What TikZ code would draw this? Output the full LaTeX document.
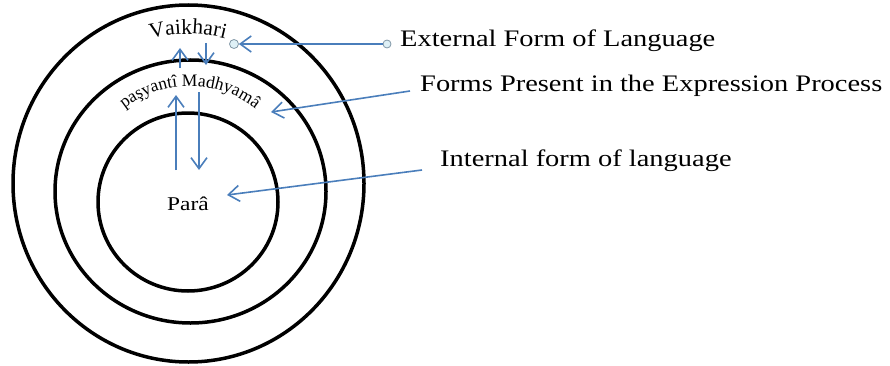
\documentclass[tikz,border=0pt]{standalone}
\usepackage{fontspec}
\setmainfont{Liberation Serif}[FakeStretch=1.2]
\newfontfamily\arcserif{Liberation Serif}
\usetikzlibrary{arrows.meta}
\definecolor{arrowblue}{RGB}{74,126,187}
\definecolor{dotfill}{RGB}{222,240,246}
\definecolor{dotline}{RGB}{128,150,165}
% #1 cx, #2 cy, #3 radius, #4 font size (pt), #5 node name prefix, #6 list char/advance (per 1000 em)
\newcommand\curvetext[6]{%
  \gdef\arctot{0}%
  \foreach \ch/\w in {#6}{\pgfmathsetmacro\arctmp{\arctot+\w*#4/1000}\xdef\arctot{\arctmp}}%
  \gdef\arcpos{0}%
  \foreach \ch/\w [count=\k] in {#6}{%
    \pgfmathsetmacro\cw{\w*#4/1000}%
    \pgfmathsetmacro\ang{90-deg((\arcpos+0.5*\cw-0.5*\arctot)/(#3))}%
    \pgfmathsetmacro\rot{\ang-90}%
    \pgfmathsetmacro\px{#1+(#3)*cos(\ang)}%
    \pgfmathsetmacro\py{#2+(#3)*sin(\ang)}%
    \node[font=\arcserif\fontsize{#4}{#4}\selectfont,inner sep=0pt,anchor=base,rotate=\rot] (#5-\k) at (\px,\py) {\ch};
    \pgfmathsetmacro\arctmp{\arcpos+\cw}\xdef\arcpos{\arctmp}%
  }}
\begin{document}
\begin{tikzpicture}[x=1pt,y=1pt,
  ring/.style={draw=black,line width=3.5pt},
  conn/.style={draw=arrowblue,line width=1.6pt,-{Straight Barb[length=11pt,width=16pt]}},
  lbl/.style={font=\fontsize{23.7}{28}\selectfont,inner sep=0pt,anchor=base west},
  dot/.style={circle,draw=dotline,fill=dotfill,line width=0.8pt,minimum size=9pt,inner sep=0pt}]
\useasboundingbox (0,0) rectangle (890,365);
% rings
\draw[ring] (188.5,181.5) ellipse [x radius=175.5, y radius=178.5];
\draw[ring] (190.5,173.5) ellipse [x radius=135.5, y radius=131.5];
\draw[ring] (188,163) ellipse [x radius=90, y radius=89];
% curved texts
\curvetext{188}{181}{150}{21.5}{vk}{V/722,a/444,i/278,k/500,h/500,a/444,r/333,i/278}
\curvetext{190}{173}{106}{17.5}{pm}{p/500,a/444,ş/389,y/500,a/444,n/500,t/278,î/278,~/250,M/889,a/444,d/500,h/500,y/500,a/444,m/778,â/444}
% centre label
\node[font=\fontsize{19.5}{20}\selectfont,inner sep=0pt,anchor=base] (para) at (188,155) {Parâ};
% right labels
\node[lbl] (extL) at (400,318) {External Form of Language};
\node[lbl] (formsL) at (420,274) {Forms Present in the Expression Process};
\node[lbl] (intL) at (440,199) {Internal form of language};
% connector ends
\node[dot] (extE) at (234,321) {};
\node[dot,minimum size=8pt] (extS) at (387,321) {};
\coordinate (formsS) at (410,274);
\coordinate (formsT) at (271,253);
\coordinate (intS) at (422,195);
\coordinate (intT) at (227,170);
\coordinate (upAb) at (176,195);
\coordinate (upAt) at (176,270);
\coordinate (dnAb) at (199,273);
\coordinate (dnAt) at (199,195);
\coordinate (upBb) at (180,297);
\coordinate (upBt) at (180,317);
\coordinate (dnBb) at (206,322);
\coordinate (dnBt) at (206,300);
% connectors
\draw[conn] (extS) -- (extE);
\draw[conn] (formsS) -- (formsT);
\draw[conn] (intS) -- (intT);
\draw[conn] (upAb) -- (upAt);
\draw[conn] (dnAb) -- (dnAt);
\draw[conn] (upBb) -- (upBt);
\draw[conn] (dnBb) -- (dnBt);
\end{tikzpicture}
\end{document}
